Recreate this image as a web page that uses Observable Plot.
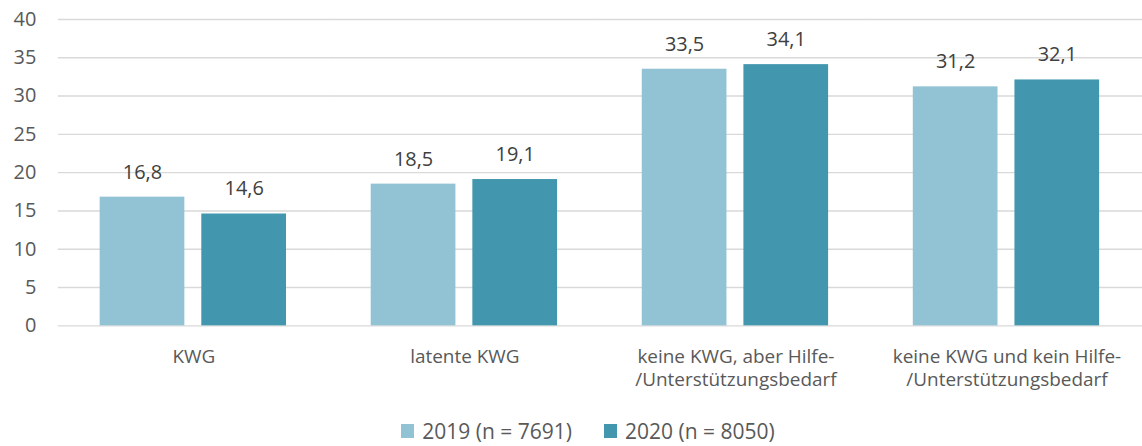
<!DOCTYPE html>
<html>
<head>
<meta charset="utf-8">
<script src="https://cdn.jsdelivr.net/npm/d3@7"></script>
<script src="https://cdn.jsdelivr.net/npm/@observablehq/plot@0.6"></script>
<style>
  html, body { margin: 0; padding: 0; background: #fff; overflow: hidden; width: 1142px; height: 446px; }
  #chart svg { display: block; }
  .legend { display: flex; justify-content: center; align-items: center; font-family: "Open Sans", sans-serif; font-size: 21px; line-height: 26px; color: #595959; margin-top: 9px; padding-left: 34px; }
  .legend .item { display: flex; align-items: center; margin: 0 16px; }
  .legend .sw { width: 13px; height: 14px; margin-right: 8px; }
</style>
</head>
<body>
<div id="chart"></div>
<div class="legend" id="legend"></div>
<script>
const categories = ["KWG", "latente KWG", "keine KWG, aber Hilfe-/Unterstützungsbedarf", "keine KWG und kein Hilfe-/Unterstützungsbedarf"];
const categoryLabels = ["KWG", "latente KWG", "keine KWG, aber Hilfe-\n/Unterstützungsbedarf", "keine KWG und kein Hilfe-\n/Unterstützungsbedarf"];
const series = ["2019", "2020"];
const seriesLabels = ["2019 (n = 7691)", "2020 (n = 8050)"];
const values2019 = [16.8, 18.5, 33.5, 31.2];
const values2020 = [14.6, 19.1, 34.1, 32.1];
const yTicks = [0, 5, 10, 15, 20, 25, 30, 35, 40];
const colors = ["#92c3d4", "#4297af"];

const data = [];
categories.forEach((c, i) => {
  data.push({cat: c, year: series[0], value: values2019[i]});
  data.push({cat: c, year: series[1], value: values2020[i]});
});
const labelOf = new Map(categories.map((c, i) => [c, categoryLabels[i]]));

const chart = Plot.plot({
  width: 1146,
  height: 410,
  marginLeft: 57,
  marginRight: 0,
  marginTop: 19,
  marginBottom: 83.5,
  style: {fontFamily: "'Open Sans', sans-serif", color: "#595959", background: "#fff"},
  fx: {domain: categories, padding: 0, label: null},
  x: {domain: series, paddingInner: 0.165, paddingOuter: 0.403, axis: null},
  y: {domain: [0, 40], label: null},
  color: {domain: series, range: colors},
  marks: [
    Plot.gridY(yTicks, {stroke: "#d9d9d9", strokeOpacity: 1, strokeWidth: 1.4}),
    Plot.barY(data, {fx: "cat", x: "year", y: "value", fill: "year"}),
    Plot.text(data, {fx: "cat", x: "year", y: "value", text: d => d.value.toFixed(1).replace(".", ","), dy: -25, lineAnchor: "middle", fill: "#404040", fontSize: 20}),
    Plot.axisY({ticks: yTicks, tickSize: 0, tickPadding: 22, fontSize: 20, label: null}),
    Plot.axisFx({anchor: "bottom", tickSize: 0, tickPadding: 20, fontSize: 19, lineHeight: 1.25, label: null, tickFormat: d => labelOf.get(d)})
  ]
});
document.getElementById("chart").appendChild(chart);

const legend = document.getElementById("legend");
series.forEach((s, i) => {
  const item = document.createElement("div");
  item.className = "item";
  const sw = document.createElement("span");
  sw.className = "sw";
  sw.style.background = colors[i];
  const t = document.createElement("span");
  t.textContent = seriesLabels[i];
  item.appendChild(sw);
  item.appendChild(t);
  legend.appendChild(item);
});
</script>
</body>
</html>
